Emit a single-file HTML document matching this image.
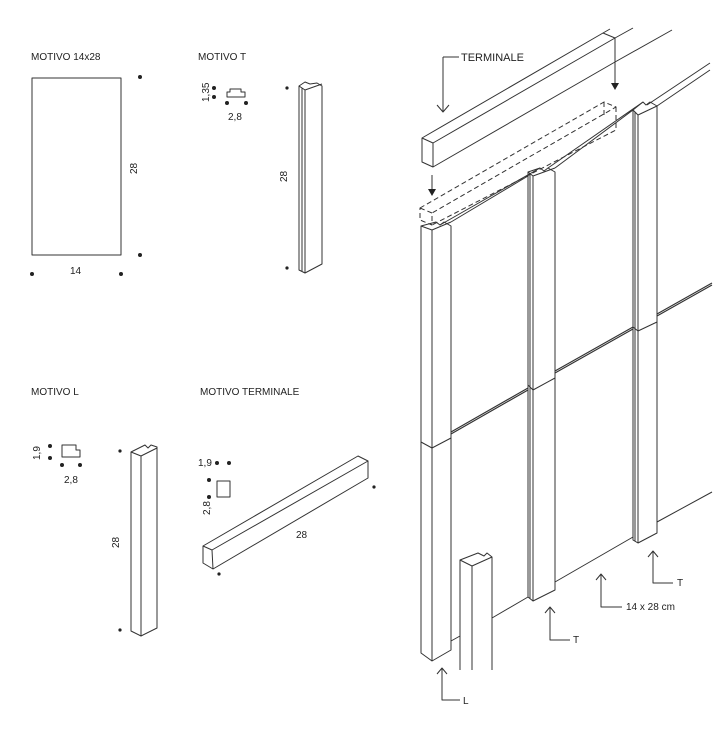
<!DOCTYPE html>
<html><head><meta charset="utf-8"><style>
html,body{margin:0;padding:0;background:#fff}
svg{display:block}
text{font-family:"Liberation Sans",sans-serif;fill:#222}
</style></head><body>
<svg width="728" height="730" viewBox="0 0 728 730" xmlns="http://www.w3.org/2000/svg">
<g stroke="#333" stroke-width="1" fill="none" stroke-linejoin="round">
<!-- Motivo 14x28 -->
<rect x="32" y="78" width="89" height="177"/>
<!-- Motivo T profile -->
<path d="M227 97 L227 92 L230 92 L230 89 L241 89 L241 92 L245 92 L245 97 Z"/>
<!-- Motivo T piece -->
<path d="M299 86 L299 270 L305 273 L322 264 L322 86 L317 83 L310 84 L305 82 L299 86 Z"/>
<path d="M305 90 L305 273 M299 86 L305 90 L322 84 M302 88 L302 271"/>
<!-- Motivo L profile -->
<path d="M62 445 L76 445 L76 450 L80 450 L80 457 L62 457 Z"/>
<!-- Motivo L piece -->
<path d="M131 452 L131 631 L141 636 L157 628 L157 447 L151 445 L148 448 L145 445 L131 452 Z M141 456 L141 636 M131 452 L141 456 L157 448"/>
<!-- Motivo terminale profile -->
<rect x="217" y="481" width="13" height="16"/>
<!-- Terminale bar -->
<path d="M203 546 L212 550 L213 569 L203 563 Z M203 546 L358 456 L368 461 L212 550 M368 461 L368 478 L213 569"/>

<!-- Big diagram -->
<!-- terminale bar -->
<path d="M422 138 L433 143 L433 167 L422 162 Z M422 138 L603 33 L615 38 L433 143 M615 38 L615 62 L433 167"/>
<path d="M603 33 L610 29 M615 38 L633 28 M615 62 L672 30"/>
<!-- dashed ghost -->
<g stroke-dasharray="5,3">
<path d="M420 208 L432 213 L432 225 L420 220 Z M420 208 L604 102 L616 107 L432 213 M616 107 L616 130 L432 225 M604 102 L604 118"/>
</g>
<!-- L column -->
<path d="M421 226 L421 653 L432 661 L451 650 L451 226 L444 222 L440 225 L436 222 L421 226 Z M432 230 L432 661 M421 226 L432 230 L451 222"/>
<path d="M421 442 L432 448 L451 438"/>
<!-- middle T column -->
<path d="M528 172 L528 597 L533 601 L555 590 L555 172 L548 168 L544 171 L540 168 Z M533 176 L533 601 M530 174 L530 599 M528 172 L533 176 L555 168"/>
<path d="M528 385 L533 390 L555 378"/>
<!-- right T column -->
<path d="M633 110 L633 540 L638 543 L657 533 L657 106 L650 102 L646 105 L643 102 Z M638 115 L638 543 M635 112 L635 541 M633 110 L638 115 L657 106"/>
<path d="M633 327 L638 331 L657 322"/>
<!-- top rails -->
<path d="M451 222 L528 176 M440 225 L540 168 M555 168 L633 110 M548 168 L643 102 M647 105 L710 63 M657 106 L710 70"/>
<!-- horizontal joints -->
<path d="M451 432 L528 388 M451 434 L528 390 M555 371 L633 327 M555 373 L633 329 M657 314 L712 283 M657 316 L712 285" stroke-width="1.2"/>
<!-- bottom lines -->
<path d="M451 641 L460 636 M492 618 L528 597 M555 582 L633 537 M657 522 L712 492"/>
<!-- L standalone -->
<path d="M460 560 L460 670 M472 566 L472 670 M492 557 L492 670 M460 560 L472 566 L492 557 L487 553 L484 556 L478 553 Z"/>
<!-- leaders -->
<path d="M443 57 L459 57 M443 57 L443 112 M437 105 L443 112 L449 105"/>
<path d="M550 607 L550 640 L570 640 M545 613 L550 607 L555 613"/>
<path d="M601 574 L601 607 L622 607 M596 580 L601 574 L606 580"/>
<path d="M653 551 L653 583 L673 583 M648 557 L653 551 L658 557"/>
<path d="M442 668 L442 700 L460 700 M437 674 L442 668 L447 674"/>
<path d="M432 175 L432 190 M615 58 L615 84"/>
</g>
<g fill="#222">
<path d="M428 189 L436 189 L432 196 Z M611 83 L619 83 L615 90 Z"/>
<circle cx="140" cy="77" r="2"/><circle cx="140" cy="255" r="2"/>
<circle cx="32" cy="274" r="2"/><circle cx="121" cy="274" r="2"/>
<circle cx="214" cy="88" r="2"/><circle cx="214" cy="97" r="2"/>
<circle cx="227" cy="103" r="2"/><circle cx="246" cy="103" r="2"/>
<circle cx="287" cy="88" r="1.6"/><circle cx="287" cy="268" r="1.6"/>
<circle cx="50" cy="446" r="2"/><circle cx="50" cy="458" r="2"/>
<circle cx="62" cy="465" r="2"/><circle cx="80" cy="465" r="2"/>
<circle cx="120" cy="451" r="1.6"/><circle cx="120" cy="630" r="1.6"/>
<circle cx="217" cy="463" r="2"/><circle cx="229" cy="463" r="2"/>
<circle cx="209" cy="480" r="2"/><circle cx="209" cy="497" r="2"/>
<circle cx="374" cy="487" r="1.6"/><circle cx="219" cy="574" r="1.6"/>
</g>
<g font-size="10">
<text x="31" y="60">MOTIVO 14x28</text>
<text x="198" y="60">MOTIVO T</text>
<text x="31" y="395">MOTIVO L</text>
<text x="200" y="395">MOTIVO TERMINALE</text>
<text x="70" y="274">14</text>
<text x="228" y="120">2,8</text>
<text x="64" y="483">2,8</text>
<text x="198" y="466">1,9</text>
<text x="296" y="538">28</text>
<text x="461" y="61" font-size="11">TERMINALE</text>
<text x="573" y="643">T</text>
<text x="626" y="610">14 x 28 cm</text>
<text x="677" y="586">T</text>
<text x="463" y="704">L</text>
<text transform="translate(137,174) rotate(-90)">28</text>
<text transform="translate(287,182) rotate(-90)">28</text>
<text transform="translate(119,548) rotate(-90)">28</text>
<text transform="translate(209,102) rotate(-90)">1,35</text>
<text transform="translate(40,460) rotate(-90)">1,9</text>
<text transform="translate(210,515) rotate(-90)">2,8</text>
</g>
</svg>
</body></html>
